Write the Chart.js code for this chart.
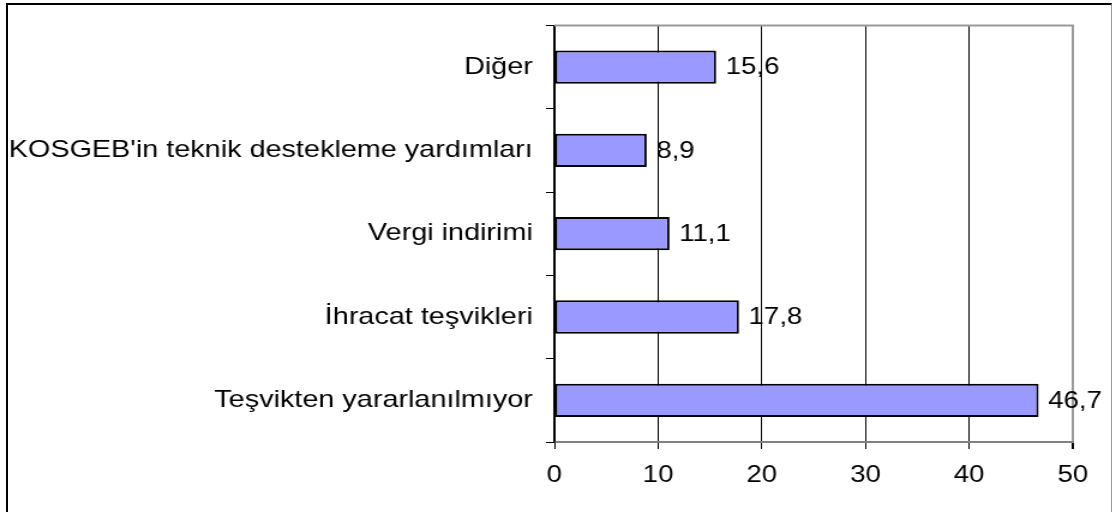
<!DOCTYPE html>
<html>
<head>
<meta charset="utf-8">
<script src="https://cdn.jsdelivr.net/npm/chart.js@4"></script>
<style>
  html, body { margin: 0; padding: 0; background: #fff; overflow: hidden; }
  #frame {
    position: absolute; left: 6px; top: 3px; width: 1106px; height: 520px;
    box-sizing: border-box;
    border-left: 2px solid #000; border-top: 2px solid #000; border-right: 1px solid #999;
  }
  /* the chart is laid out 927px wide and stretched horizontally to 1112px */
  #c { position: absolute; left: 0; top: 0; transform: scaleX(1.2); transform-origin: 0 0; }
</style>
</head>
<body>
<div id="frame"></div>
<canvas id="c" width="927" height="512"></canvas>
<script>
const categories = [
  'Diğer',
  "KOSGEB'in teknik destekleme yardımları",
  'Vergi indirimi',
  'İhracat teşvikleri',
  'Teşvikten yararlanılmıyor'
];
const values = [15.6, 8.9, 11.1, 17.8, 46.7];
const xTicks = [0, 10, 20, 30, 40, 50];

const FONT = '"Liberation Sans", Arial, sans-serif';

// values printed just past the end of each bar, with a decimal comma
const valueLabels = {
  id: 'valueLabels',
  afterDatasetsDraw(chart) {
    const ctx = chart.ctx;
    const meta = chart.getDatasetMeta(0);
    ctx.save();
    ctx.font = '23px ' + FONT;
    ctx.fillStyle = '#000';
    ctx.textAlign = 'left';
    ctx.textBaseline = 'middle';
    meta.data.forEach((bar, i) => {
      ctx.fillText(String(values[i]).replace('.', ','), bar.x + 8, bar.y + 1);
    });
    ctx.restore();
  }
};

// grey top edge of the plot area
const plotFrame = {
  id: 'plotFrame',
  afterDraw(chart) {
    const { ctx, chartArea: a } = chart;
    ctx.save();
    ctx.strokeStyle = '#999';
    ctx.lineWidth = 2;
    ctx.beginPath();
    ctx.moveTo(a.left, a.top);
    ctx.lineTo(a.right + 1, a.top);
    ctx.stroke();
    ctx.restore();
  }
};

new Chart(document.getElementById('c'), {
  type: 'bar',
  data: {
    labels: categories,
    datasets: [{
      data: values,
      backgroundColor: '#9999FF',
      borderColor: '#000',
      borderWidth: 2,
      borderSkipped: false,
      categoryPercentage: 1,
      barPercentage: 0.4
    }]
  },
  options: {
    indexAxis: 'y',
    responsive: false,
    animation: false,
    devicePixelRatio: 1,
    layout: { padding: { left: 0, top: 20, right: 33, bottom: 0 } },
    plugins: { legend: { display: false }, tooltip: { enabled: false } },
    scales: {
      x: {
        min: 0, max: 50,
        afterBuildTicks: s => { s.ticks = xTicks.map(v => ({ value: v })); },
        afterFit: s => { s.height = 70; },
        grid: {
          color: c => (c.tick && c.tick.value === 50) ? '#999' : '#000',
          lineWidth: c => (c.tick && c.tick.value === 50) ? 2 : 1,
          tickLength: 7,
          tickColor: '#000'
        },
        border: { color: '#808080', width: 2 },
        ticks: { color: '#000', font: { family: FONT, size: 23 }, padding: 13, maxRotation: 0 }
      },
      y: {
        afterFit: s => { s.width = 462; },
        grid: { drawOnChartArea: false, offset: true, tickLength: 7, tickColor: '#000' },
        border: { color: '#000', width: 1.5 },
        ticks: { color: '#000', font: { family: FONT, size: 24 }, padding: 11 }
      }
    }
  },
  plugins: [valueLabels, plotFrame]
});
</script>
</body>
</html>
